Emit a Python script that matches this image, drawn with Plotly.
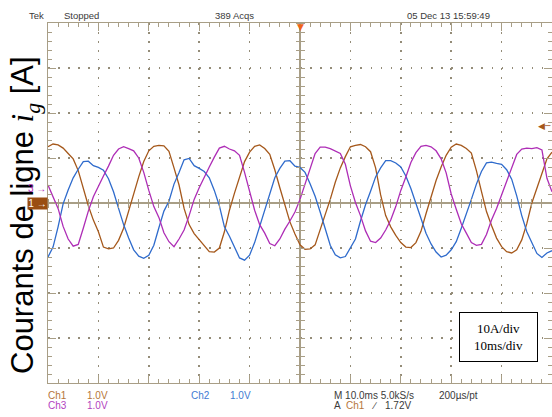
import plotly.graph_objects as go

# ---------------- data ----------------
# time relative to trigger, 1 ms per sample, 10 ms/div
t_ms = list(range(-50, 51))

# line currents in A (10 A/div)
ch1_current = [12.5, 13.1, 12.9, 12.2, 11.0, 9.8, 7.2, 3.2, -0.6, -3.8,
               -6.4, -9.8, -10.2, -10.0, -8.3, -5.6, -1.8, 2.2, 5.8, 9.2,
               11.6, 12.6, 12.8, 12.7, 11.5, 7.8, 4.0, -1.2, -4.8, -6.8,
               -8.2, -9.6, -10.8, -10.9, -10.0, -6.4, -1.6, 2.2, 5.6, 9.2,
               11.3, 12.6, 12.9, 12.1, 10.8, 7.4, 3.4, -0.4, -4.2, -6.9,
               -9.3, -10.3, -10.2, -9.3, -6.0, -3.0, 0.8, 4.6, 7.8, 10.3,
               12.5, 12.8, 13.0, 12.5, 11.4, 7.8, 1.8, -2.8, -5.3, -7.2,
               -8.8, -9.8, -9.9, -8.8, -6.3, -2.4, 1.4, 5.0, 8.0, 10.6,
               12.4, 13.1, 12.8, 12.1, 11.1, 7.2, 2.6, -1.9, -5.0, -7.8,
               -9.7, -10.8, -11.1, -10.4, -8.2, -4.6, 0.0, 3.2, 6.5, 9.8,
               11.3]
ch2_current = [-12.0, -9.8, -5.3, -0.2, 2.9, 5.6, 7.5, 9.2, 9.3, 8.3,
               7.9, 7.3, 5.4, 2.5, -1.2, -4.8, -7.8, -10.4, -11.8, -12.3,
               -11.6, -9.4, -5.5, -1.8, 0.4, 4.2, 6.8, 9.6, 9.9, 8.3,
               7.7, 7.0, 5.6, 2.8, -0.6, -5.3, -7.4, -10.0, -12.2, -12.7,
               -11.6, -8.8, -5.2, -1.6, 2.4, 5.6, 7.7, 9.3, 9.4, 8.2,
               7.9, 6.8, 4.3, 1.5, -2.0, -5.6, -9.4, -11.5, -12.2, -11.9,
               -9.8, -8.0, -4.0, -0.4, 2.6, 5.8, 7.8, 9.4, 9.4, 8.9,
               8.0, 6.0, 3.2, 0.0, -3.4, -6.7, -9.1, -10.9, -12.0, -11.6,
               -10.4, -8.6, -5.6, -2.5, 0.8, 4.2, 7.0, 8.9, 9.1, 8.8,
               8.6, 7.4, 5.3, 1.6, -2.8, -6.4, -9.0, -11.2, -12.1, -11.1,
               -10.6]
ch3_current = [4.0, 1.5, -1.2, -5.2, -8.0, -9.6, -9.2, -5.6, -1.8, 1.4,
               3.9, 6.0, 8.2, 10.6, 12.0, 12.5, 12.1, 11.6, 10.0, 6.8,
               2.8, -0.8, -3.2, -6.6, -8.6, -9.7, -8.0, -6.0, -2.8, 0.8,
               3.4, 5.8, 8.0, 10.2, 12.2, 12.6, 12.0, 11.6, 10.6, 6.8,
               2.4, -1.6, -4.8, -6.7, -9.0, -9.5, -8.0, -5.8, -4.0, -2.0,
               0.8, 4.2, 7.3, 11.0, 12.4, 12.4, 12.1, 11.6, 11.0, 8.6,
               3.8, 0.1, -2.8, -6.2, -8.5, -8.8, -7.8, -6.0, -3.8, -0.8,
               2.8, 5.8, 9.0, 11.2, 12.6, 12.8, 12.5, 11.6, 9.8, 6.7,
               2.0, -1.4, -4.6, -6.7, -8.8, -9.4, -9.2, -7.0, -3.8, -1.2,
               1.8, 4.8, 7.7, 10.8, 12.0, 12.2, 12.1, 12.3, 11.8, 5.5,
               2.5]

# scope settings / markers
x_range = [-50, 50]          # ms, 10 div
y_range = [-40, 40]          # A, 8 div
trigger_time = 0
trigger_level = 17.2         # 1.72 V on Ch1
ch1_ref = 0.0
ch3_ref = 3.3

header_labels = ["Tek", "Stopped", "389 Acqs", "05 Dec 13 15:59:49"]
footer_row1 = ["Ch1", "1.0V", "Ch2", "1.0V", "M 10.0ms 5.0kS/s", "200\u00b5s/pt"]
footer_row2 = ["Ch3", "1.0V", "A", "Ch1", "\u2215", "1.72V"]
box_text = "10A/div<br>10ms/div"
y_title = ('Courants de ligne <span style="font-family:\'Liberation Serif\',serif">'
           '<i>i</i><sub><i>g</i></sub></span> [A]')

# ---------------- styling ----------------
W, H = 552, 417
L, R, T, B = 48, 0, 23, 34
PW, PH = W - L - R, H - T - B

def px(x):
    return (x - L) / PW

def py(y):
    return (H - B - y) / PH

GRID = "#a89e86"
DOT = "#948c78"
BROWN = "#a5581b"
BLUE = "#2f6bcc"
MAG = "#ae2db6"
BROWN_TXT = "#b5763a"
BLUE_TXT = "#3f7bd2"
MAG_TXT = "#b23fc0"
DARK = "#3a3a3a"
SANS = "Liberation Sans, Arial, sans-serif"

fig = go.Figure()
for ys, col, name in [(ch1_current, BROWN, "Ch1"), (ch2_current, BLUE, "Ch2"),
                      (ch3_current, MAG, "Ch3")]:
    fig.add_trace(go.Scatter(x=t_ms, y=ys, mode="lines", name=name,
                             line=dict(color=col, width=1.3), hoverinfo="skip"))
# empty traces so the centre tick axes get drawn
for xa, ya in [("x2", "y"), ("x3", "y"), ("x", "y2"), ("x", "y3")]:
    fig.add_trace(go.Scatter(x=[None], y=[None], xaxis=xa, yaxis=ya, mode="lines",
                             hoverinfo="skip", showlegend=False))

fig.update_layout(
    width=W, height=H,
    margin=dict(l=L, r=R, t=T, b=B, pad=0),
    paper_bgcolor="white", plot_bgcolor="white", showlegend=False,
    xaxis=dict(range=x_range, dtick=10, tick0=0, showticklabels=False,
               showgrid=True, gridcolor=DOT, gridwidth=1.5, griddash="1.5px,7.5px",
               zeroline=True, zerolinecolor=GRID, zerolinewidth=1.5,
               showline=True, linecolor=GRID, linewidth=1, mirror="ticks",
               ticks="inside", ticklen=8, tickcolor=GRID, tickwidth=1,
               minor=dict(dtick=2, tick0=0, ticks="inside", ticklen=4,
                          tickcolor=GRID, tickwidth=1, showgrid=False),
               fixedrange=True),
    yaxis=dict(range=y_range, dtick=10, tick0=0, showticklabels=False,
               showgrid=True, gridcolor=DOT, gridwidth=1.5, griddash="1.5px,8.58px",
               zeroline=True, zerolinecolor=GRID, zerolinewidth=1.5,
               showline=True, linecolor=GRID, linewidth=1, mirror="ticks",
               ticks="inside", ticklen=8, tickcolor=GRID, tickwidth=1,
               minor=dict(dtick=2, tick0=0, ticks="inside", ticklen=4,
                          tickcolor=GRID, tickwidth=1, showgrid=False),
               fixedrange=True),
)
# centre-axis tick marks (crossing the centre lines)
for name, side in [("xaxis2", "bottom"), ("xaxis3", "top")]:
    fig.update_layout({name: dict(overlaying="x", anchor="free", position=0.5,
                                  side=side, range=x_range, dtick=2, tick0=0,
                                  ticks="outside", ticklen=4, tickcolor=GRID,
                                  tickwidth=1, showticklabels=False,
                                  showgrid=False, zeroline=False, showline=False,
                                  fixedrange=True)})
for name, side in [("yaxis2", "left"), ("yaxis3", "right")]:
    fig.update_layout({name: dict(overlaying="y", anchor="free", position=0.5,
                                  side=side, range=y_range, dtick=2, tick0=0,
                                  ticks="outside", ticklen=4, tickcolor=GRID,
                                  tickwidth=1, showticklabels=False,
                                  showgrid=False, zeroline=False, showline=False,
                                  fixedrange=True)})

ann = []
# header
for txt, x in zip(header_labels, [27, 62, 213, 405]):
    ann.append(dict(text=txt, xref="paper", yref="paper", x=px(x), y=py(15),
                    xanchor="left", yanchor="middle", showarrow=False,
                    font=dict(family=SANS, size=9.5, color=DARK)))
# footer
row1_cols = [BROWN_TXT, BROWN_TXT, BLUE_TXT, BLUE_TXT, DARK, DARK]
row1_x = [46, 85, 189, 228, 332, 437]
for txt, x, c in zip(footer_row1, row1_x, row1_cols):
    ann.append(dict(text=txt, xref="paper", yref="paper", x=px(x), y=py(395.5),
                    xanchor="left", yanchor="middle", showarrow=False,
                    font=dict(family=SANS, size=10, color=c)))
row2_cols = [MAG_TXT, MAG_TXT, DARK, BROWN_TXT, DARK, DARK]
row2_x = [46, 85, 332, 344, 369, 383]
for txt, x, c in zip(footer_row2, row2_x, row2_cols):
    ann.append(dict(text=txt, xref="paper", yref="paper", x=px(x), y=py(405.5),
                    xanchor="left", yanchor="middle", showarrow=False,
                    font=dict(family=SANS, size=10, color=c)))
# y title
ann.append(dict(text=y_title, xref="paper", yref="paper", x=px(25), y=py(215),
                xanchor="center", yanchor="middle", textangle=-90, showarrow=False,
                font=dict(family=SANS, size=31, color="black")))
# scale box
ann.append(dict(text=box_text, xref="paper", yref="paper", x=px(498.5), y=py(337),
                xanchor="center", yanchor="middle", showarrow=False, align="center",
                width=77, height=48, borderpad=0, bordercolor="black", borderwidth=1,
                bgcolor="white",
                font=dict(family="Liberation Serif, Times New Roman, serif", size=13,
                          color="black")))
# channel reference markers
ann.append(dict(text="1 \u2192", xref="paper", yref="y", x=px(48), y=ch1_ref,
                xanchor="right", yanchor="middle", showarrow=False, width=19,
                height=11, borderpad=0, bgcolor="#9a4e12",
                font=dict(family=SANS, size=10, color="white")))
ann.append(dict(text="3 \u2192", xref="paper", yref="y", x=px(48), y=ch3_ref,
                xanchor="right", yanchor="middle", showarrow=False,
                font=dict(family=SANS, size=10, color=MAG)))
# trigger level arrow (right) and trigger position (top)
ann.append(dict(text="\u25c0\u2500", xref="paper", yref="y", x=px(553), y=trigger_level,
                xanchor="right", yanchor="middle", showarrow=False,
                font=dict(family="DejaVu Sans", size=9, color=BROWN)))
ann.append(dict(text="\u25bc", xref="x", yref="paper", x=trigger_time, y=py(20),
                xanchor="center", yanchor="top", showarrow=False,
                font=dict(family="DejaVu Sans", size=9, color="#f06418")))
fig.update_layout(annotations=ann)

fig.write_html("out.html", config={"staticPlot": True},
               post_script="document.body.style.margin='0';")
